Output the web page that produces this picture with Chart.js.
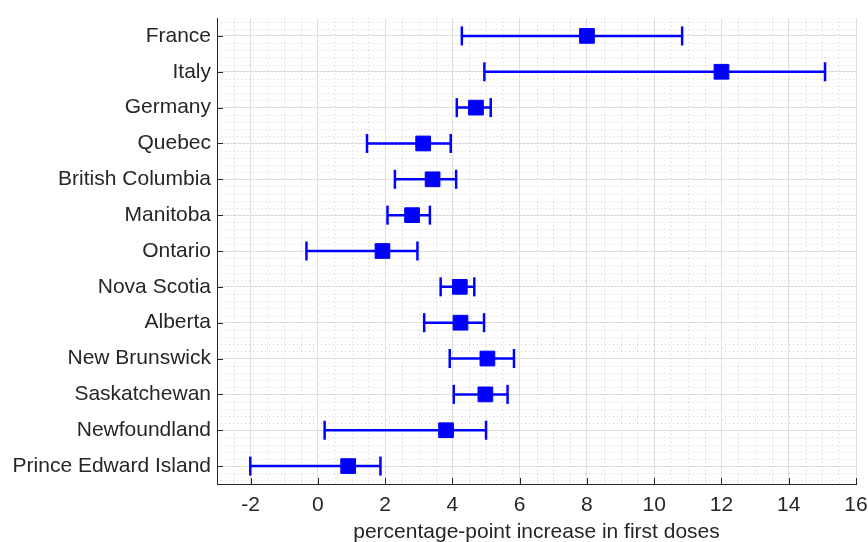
<!DOCTYPE html>
<html>
<head>
<meta charset="utf-8">
<script src="https://cdn.jsdelivr.net/npm/chart.js@4/dist/chart.umd.min.js"></script>
<style>
  html, body { margin: 0; padding: 0; background: #fff; }
  #wrap { width: 868px; height: 542px; }
</style>
</head>
<body>
<div id="wrap"><canvas id="chart"></canvas></div>
<script>
// categories from top to bottom
var categories = ['France', 'Italy', 'Germany', 'Quebec', 'British Columbia', 'Manitoba',
    'Ontario', 'Nova Scotia', 'Alberta', 'New Brunswick', 'Saskatchewan', 'Newfoundland',
    'Prince Edward Island'];
var estimate = [8.0, 12.0, 4.70, 3.13, 3.41, 2.80, 1.92, 4.22, 4.24, 5.04, 4.98, 3.81, 0.90];
var lower = [4.28, 4.95, 4.13, 1.46, 2.29, 2.07, -0.34, 3.65, 3.16, 3.92, 4.04, 0.20, -2.01];
var upper = [10.83, 15.08, 5.14, 3.95, 4.11, 3.33, 2.96, 4.65, 4.94, 5.83, 5.64, 5.00, 1.86];
var xTicks = [-2, 0, 2, 4, 6, 8, 10, 12, 14, 16];
var xMin = -3, xMax = 16;
var xTitle = 'percentage-point increase in first doses';

var BLUE = '#0000ff';
var TEXT = '#262626';
var FONT = "'Liberation Sans', Arial, sans-serif";

// build datasets from the arrays
var whiskers = [];
var caps = [];
var points = [];
categories.forEach(function (c, i) {
    whiskers.push({x: lower[i], y: i + 1});
    whiskers.push({x: upper[i], y: i + 1});
    whiskers.push({x: null, y: null});
    caps.push({x: lower[i], y: i + 1});
    caps.push({x: upper[i], y: i + 1});
    points.push({x: estimate[i], y: i + 1});
});

// minor dotted grid + inward tick marks, matlab style
var matlabGrid = {
    id: 'matlabGrid',
    beforeDraw: function (chart) {
        var ctx = chart.ctx, a = chart.chartArea;
        var xs = chart.scales.x, ys = chart.scales.y;
        ctx.save();
        ctx.strokeStyle = '#d2d2d2';
        ctx.lineWidth = 1;
        ctx.setLineDash([1, 3]);
        for (var k = 1; k < (xMax - xMin) * 2; k++) {
            var v = xMin + k * 0.5;
            if (xTicks.indexOf(v) >= 0) continue;
            var px = Math.round(xs.getPixelForValue(v)) + 0.5;
            ctx.beginPath();
            ctx.moveTo(px, a.top);
            ctx.lineTo(px, a.bottom);
            ctx.stroke();
        }
        for (var j = 3; j < categories.length * 5 + 3; j++) {
            if (j % 5 === 0) continue;
            var yv = j * 0.2;
            var py = Math.round(ys.getPixelForValue(yv)) + 0.5;
            ctx.beginPath();
            ctx.moveTo(a.left, py);
            ctx.lineTo(a.right, py);
            ctx.stroke();
        }
        ctx.restore();
    },
    beforeDatasetsDraw: function (chart) {
        var ctx = chart.ctx, a = chart.chartArea;
        var xs = chart.scales.x, ys = chart.scales.y;
        ctx.save();
        ctx.strokeStyle = TEXT;
        ctx.lineWidth = 1;
        xTicks.forEach(function (v) {
            var px = Math.round(xs.getPixelForValue(v)) + 0.5;
            ctx.beginPath();
            ctx.moveTo(px, a.bottom);
            ctx.lineTo(px, a.bottom - 6);
            ctx.stroke();
        });
        categories.forEach(function (c, i) {
            var py = Math.round(ys.getPixelForValue(i + 1)) + 0.5;
            ctx.beginPath();
            ctx.moveTo(a.left, py);
            ctx.lineTo(a.left + 6, py);
            ctx.stroke();
        });
        ctx.restore();
    }
};

var ctx = document.getElementById('chart').getContext('2d');
var chart = new Chart(ctx, {
    type: 'scatter',
    data: {
        datasets: [
            {
                type: 'line',
                data: whiskers,
                borderColor: BLUE,
                borderWidth: 2.5,
                pointRadius: 0,
                spanGaps: false,
                order: 3
            },
            {
                data: caps,
                pointStyle: 'line',
                rotation: 90,
                radius: 9.5,
                borderColor: BLUE,
                borderWidth: 2.5,
                order: 2
            },
            {
                data: points,
                pointStyle: 'rect',
                radius: 10.4,
                backgroundColor: BLUE,
                borderColor: BLUE,
                borderWidth: 1,
                order: 1
            }
        ]
    },
    options: {
        responsive: true,
        maintainAspectRatio: false,
        animation: false,
        layout: {padding: {top: 18, right: 12, left: 0, bottom: 0}},
        plugins: {legend: {display: false}, tooltip: {enabled: false}},
        scales: {
            x: {
                type: 'linear',
                min: xMin,
                max: xMax,
                afterBuildTicks: function (s) {
                    s.ticks = xTicks.map(function (v) { return {value: v}; });
                },
                afterFit: function (s) {
                    s.height = 58;
                    s.paddingLeft = 0;
                    s.paddingRight = 0;
                },
                grid: {color: '#dedede', drawTicks: false},
                border: {color: TEXT, width: 1},
                ticks: {color: TEXT, padding: 9, maxRotation: 0, font: {family: FONT, size: 21}},
                title: {
                    display: true,
                    text: xTitle,
                    color: TEXT,
                    padding: {top: 0, bottom: -3},
                    font: {family: FONT, size: 21}
                }
            },
            y: {
                type: 'linear',
                reverse: true,
                min: 0.5,
                max: categories.length + 0.5,
                afterBuildTicks: function (s) {
                    s.ticks = categories.map(function (c, i) { return {value: i + 1}; });
                },
                afterFit: function (s) {
                    s.width = 217;
                    s.paddingTop = 0;
                    s.paddingBottom = 0;
                },
                grid: {color: '#dedede', drawTicks: false},
                border: {color: TEXT, width: 1},
                ticks: {
                    color: TEXT,
                    padding: 6,
                    font: {family: FONT, size: 21},
                    callback: function (v) { return categories[v - 1]; }
                }
            }
        }
    },
    plugins: [matlabGrid]
});
</script>
</body>
</html>
